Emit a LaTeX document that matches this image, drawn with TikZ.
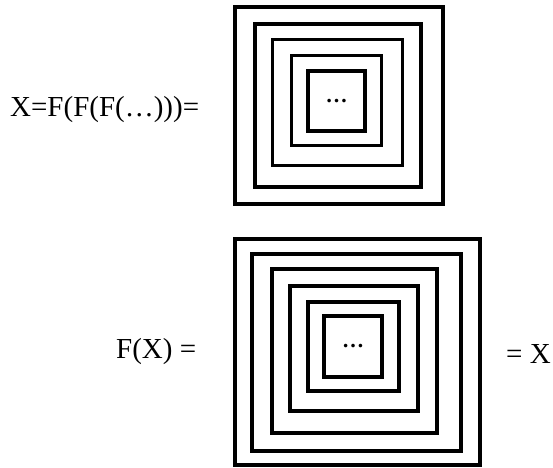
\documentclass[tikz,border=0pt]{standalone}
\usepackage{fontspec}
\setmainfont{Liberation Serif}
\usepackage{tikz}
\usetikzlibrary{positioning}

\begin{document}
\begin{tikzpicture}[x=1pt, y=-1pt,
sq/.style={draw, line width=3.2pt, inner sep=0pt},
eqtext/.style={font=\fontsize{29}{33}\selectfont, inner sep=0pt},
dots/.style={font=\fontsize{22}{26}\selectfont\bfseries, inner sep=0pt}
]
\useasboundingbox[fill=white] (0,0) rectangle (553,467);
% nested squares: X
\foreach \n/\cx/\cy/\w/\h in {1/339/105.5/208/197, 2/338/105.5/166/163, 3/337.7/102.8/130/126, 4/336.7/100.8/90/90, 5/336.5/101/57/60}
  \node[sq, minimum width=\w pt, minimum height=\h pt] (x\n) at (\cx,\cy) {};
\node[dots] (xdots) at (x5.center) {\dots};
% nested squares: F(X)
\foreach \n/\cx/\cy/\w/\h in {1/357.5/352/245/226, 2/356.5/352.5/209/197, 3/354.5/351/165/164, 4/354/348.5/128/125, 5/353.5/346.5/91/89, 6/353/346.5/58/61}
  \node[sq, minimum width=\w pt, minimum height=\h pt] (f\n) at (\cx,\cy) {};
\node[dots] (fdots) at (f6.center) {\dots};
% equations
\node[eqtext, anchor=base west] (lhs) at (10,116) {X=F(F(F(…)))=};
\node[eqtext, anchor=base west] (fx) at (116,358) {F(X) =};
\node[eqtext, anchor=base west] (eqx) at (506,363) {= X};
\end{tikzpicture}
\end{document}
